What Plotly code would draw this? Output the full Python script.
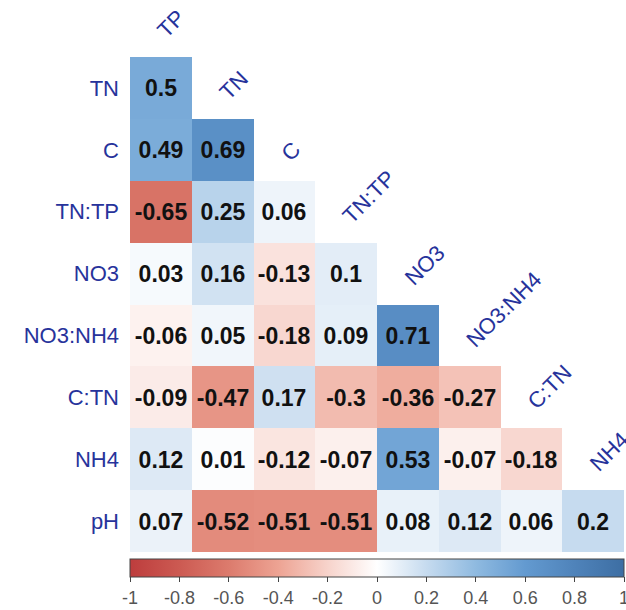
import plotly.graph_objects as go

# Variables in matrix order
variables = ["TP", "TN", "C", "TN:TP", "NO3", "NO3:NH4", "C:TN", "NH4", "pH"]
row_labels = variables[1:]
col_labels = variables[:-1]

# Lower-triangle correlation coefficients, one list per row
r_TN = [0.5]
r_C = [0.49, 0.69]
r_TNTP = [-0.65, 0.25, 0.06]
r_NO3 = [0.03, 0.16, -0.13, 0.1]
r_NO3NH4 = [-0.06, 0.05, -0.18, 0.09, 0.71]
r_CTN = [-0.09, -0.47, 0.17, -0.3, -0.36, -0.27]
r_NH4 = [0.12, 0.01, -0.12, -0.07, 0.53, -0.07, -0.18]
r_pH = [0.07, -0.52, -0.51, -0.51, 0.08, 0.12, 0.06, 0.2]

cbar_ticks = [-1, -0.8, -0.6, -0.4, -0.2, 0, 0.2, 0.4, 0.6, 0.8, 1]
cbar_ticktext = ["-1", "-0.8", "-0.6", "-0.4", "-0.2", "0", "0.2", "0.4", "0.6", "0.8", "1"]

rows = [r_TN, r_C, r_TNTP, r_NO3, r_NO3NH4, r_CTN, r_NH4, r_pH]
n = len(col_labels)
z = [r + [None] * (n - len(r)) for r in rows]
text = [[f"{v:g}" for v in r] + [""] * (n - len(r)) for r in rows]

colorscale = [
    [0.0, "#bd3d3d"],
    [0.1, "#cc5a52"],
    [0.2, "#dc7b6d"],
    [0.3, "#eda393"],
    [0.4, "#f7d3cb"],
    [0.5, "#ffffff"],
    [0.6, "#c6dbef"],
    [0.7, "#8fbae0"],
    [0.8, "#639ad0"],
    [0.9, "#4f83ba"],
    [1.0, "#3d6ea3"],
]

W, H = 626, 610
grid_left, grid_right = 130, 624
grid_top, grid_bottom = 57, 552
cell = (grid_bottom - grid_top) / n
y_top_val = -1.3  # extra headroom above the first row for the diagonal labels
top_px = grid_top - (-0.5 - y_top_val) * cell

FONT = "Liberation Sans, Arial, sans-serif"
LABEL_COLOR = "#27339b"

fig = go.Figure(
    go.Heatmap(
        z=z,
        x=list(range(n)),
        y=list(range(n)),
        text=text,
        texttemplate="<b>%{text}</b>",
        textfont=dict(family=FONT, size=23, color="#111111"),
        colorscale=colorscale,
        zmin=-1,
        zmax=1,
        hoverongaps=False,
        colorbar=dict(
            orientation="h",
            x=(grid_left + grid_right) / 2 / W,
            xanchor="center",
            y=1 - 559 / H,
            yanchor="top",
            lenmode="pixels",
            len=grid_right - grid_left,
            thickness=18,
            xpad=0,
            ypad=0,
            outlinewidth=1,
            outlinecolor="#444444",
            ticks="outside",
            ticklen=5,
            tickcolor="#444444",
            tickvals=cbar_ticks,
            ticktext=cbar_ticktext,
            ticklabeloverflow="allow",
            tickfont=dict(family=FONT, size=18, color="#555555"),
        ),
    )
)

# Diagonal variable names, rotated, just above each column's first cell
annotations = []
for j, name in enumerate(col_labels):
    annotations.append(
        dict(
            x=j - 0.18,
            y=(j - 1) + 0.31,
            xref="x",
            yref="y",
            text=name,
            showarrow=False,
            textangle=-45,
            xanchor="left",
            yanchor="bottom",
            font=dict(family=FONT, size=22, color=LABEL_COLOR),
        )
    )

fig.update_layout(
    width=W,
    height=H,
    margin=dict(l=0, r=0, t=0, b=0),
    paper_bgcolor="white",
    plot_bgcolor="white",
    annotations=annotations,
    xaxis=dict(
        domain=[grid_left / W, grid_right / W],
        range=[-0.5, n - 0.5],
        showgrid=False,
        zeroline=False,
        showticklabels=False,
        ticks="",
    ),
    yaxis=dict(
        domain=[1 - grid_bottom / H, 1 - top_px / H],
        range=[n - 0.5, y_top_val],
        showgrid=False,
        zeroline=False,
        ticks="",
        tickvals=list(range(n)),
        ticktext=row_labels,
        tickfont=dict(family=FONT, size=22, color=LABEL_COLOR),
        ticklabelstandoff=10,
    ),
)

fig.write_html("out.html")
